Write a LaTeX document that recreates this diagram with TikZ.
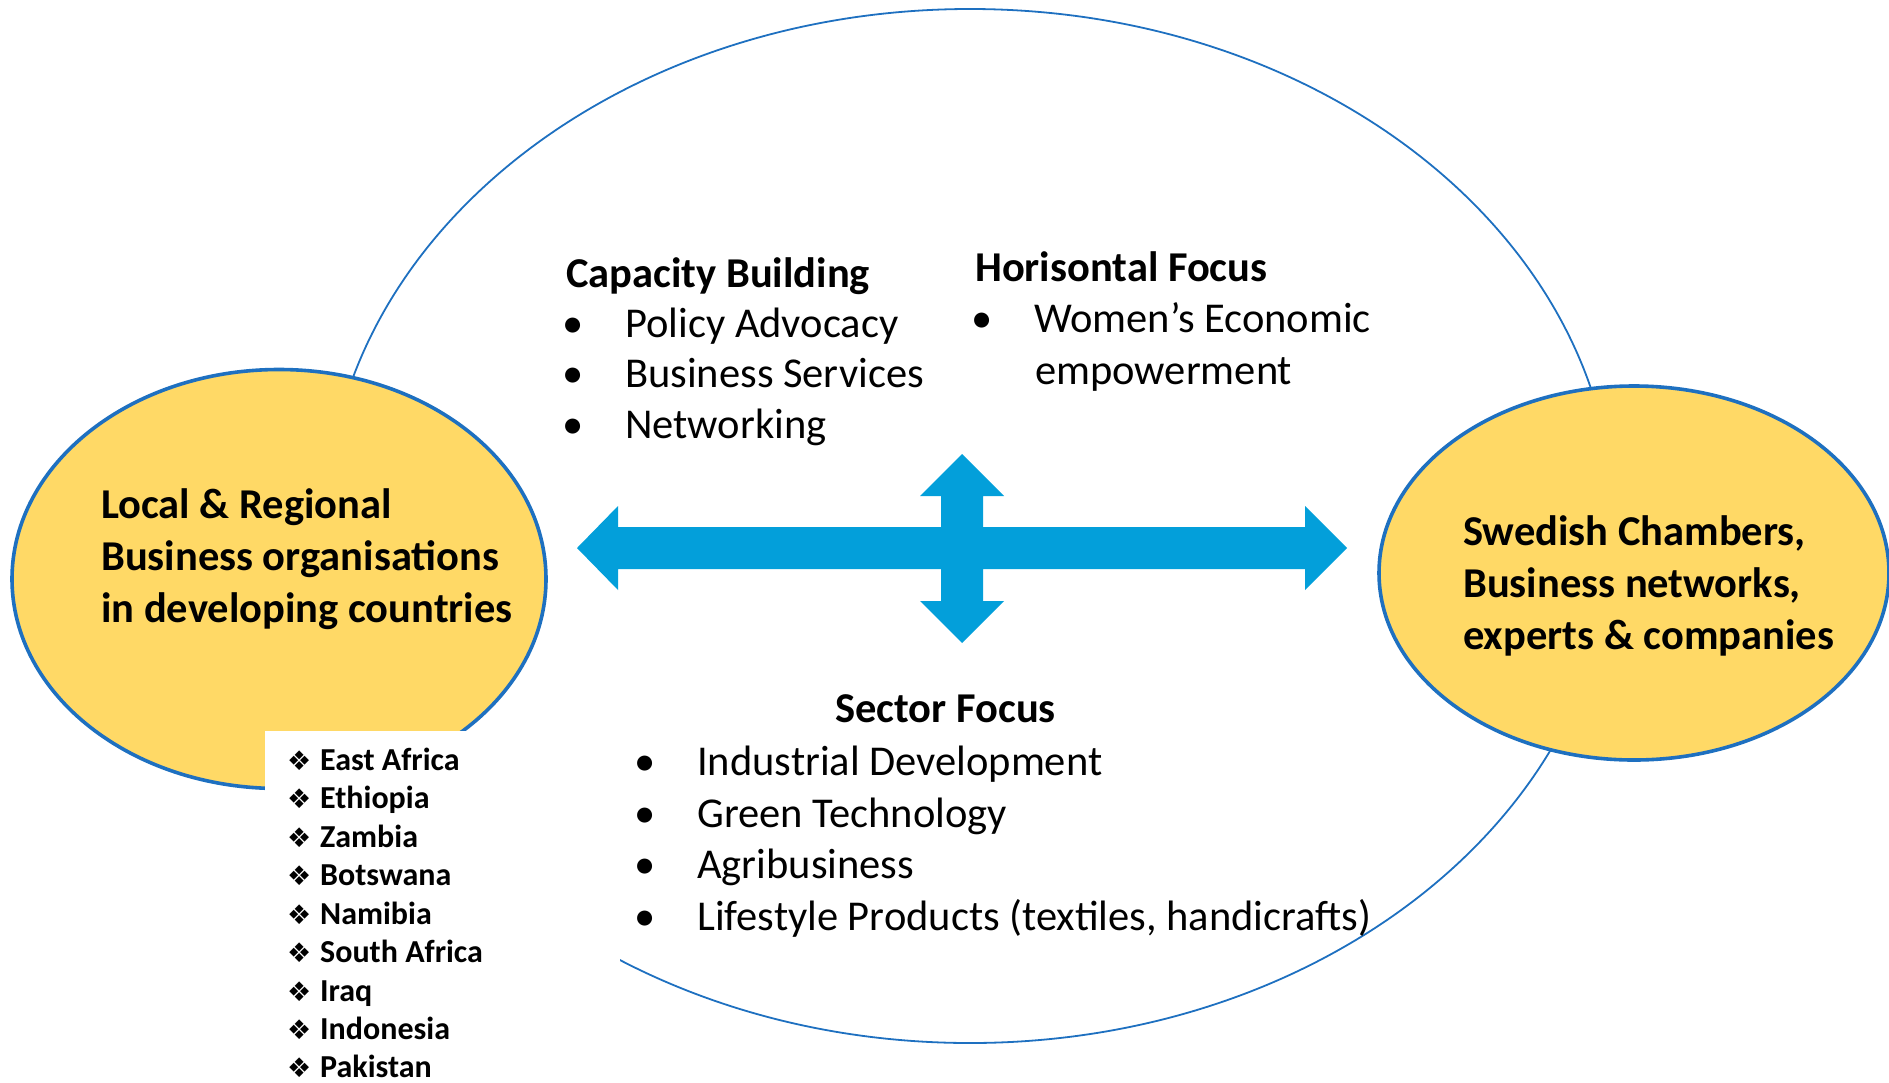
\documentclass[tikz,border=0pt]{standalone}
\usepackage{fontspec}
\setmainfont{Carlito}
\newfontfamily\dingfont{DejaVu Sans}
\usepackage{tikz}
\usetikzlibrary{shapes.geometric}

\definecolor{ringblue}{RGB}{30,112,192}
\definecolor{orgyellow}{RGB}{255,217,102}
\definecolor{arrowblue}{RGB}{3,159,218}

\newcommand{\bitem}[1]{\makebox[0pt]{\textbullet}\hspace{52pt}#1}
\newcommand{\ditem}[1]{\makebox[0pt][l]{\dingfont\fontsize{27}{38}\selectfont ❖}\hspace{33pt}#1}

\begin{document}
\begin{tikzpicture}[x=1pt,y=-1pt,
    orgell/.style={ellipse, draw=ringblue, line width=3.6pt, fill=orgyellow, inner sep=0pt},
    orgtxt/.style={anchor=west, align=left, inner sep=0pt, font=\fontsize{42.5}{52}\selectfont\bfseries},
    hd/.style={anchor=west, inner sep=0pt, text height=30pt, text depth=9pt, font=\fontsize{42.5}{50}\selectfont\bfseries},
    itm/.style={anchor=west, inner sep=0pt, text height=30pt, text depth=9pt, font=\fontsize{42.5}{50}\selectfont},
    cty/.style={anchor=west, inner sep=0pt, text height=22pt, text depth=7pt, font=\fontsize{32}{38}\selectfont\bfseries}]
    \useasboundingbox (0,0) rectangle (1889,1082);

    %Shape: Ellipse [id:ring]
    \node [ellipse, draw=ringblue, line width=1.8pt, minimum width=1288pt, minimum height=1034pt] (ring) at (970,526) {};
    %Shape: Ellipse [id:local]
    \node [orgell, minimum width=534pt, minimum height=419pt] (local) at (279,579) {};
    %Shape: Ellipse [id:swedish]
    \node [orgell, minimum width=510pt, minimum height=374pt] (swedish) at (1634,573) {};
    %Shape: Rectangle [id:ctybox]
    \fill [white] (265,731) rectangle (620,1090);

    %Shape: Cross Arrow [id:cross]
    \fill [arrowblue] (577,548) -- (618,506) -- (618,527) -- (941,527) -- (941,496) -- (920,496) -- (962,454)
        -- (1004,496) -- (983,496) -- (983,527) -- (1305,527) -- (1305,506) -- (1347,548) -- (1305,590)
        -- (1305,569) -- (983,569) -- (983,601) -- (1004,601) -- (962,643) -- (920,601) -- (941,601)
        -- (941,569) -- (618,569) -- (618,590) -- cycle;

    % Text Node
    \node [orgtxt] (localtxt) at (101,559) {Local \& Regional\\Business organisations\\in developing countries};
    % Text Node
    \node [orgtxt] (swedishtxt) at (1463,586) {Swedish Chambers,\\Business networks,\\experts \& companies};

    % Text Node
    \node [hd] (caphd) at (566,277) {Capacity Building};
    % Text Node
    \node [itm] (cap1) at (573,327) {\bitem{Policy Advocacy}};
    % Text Node
    \node [itm] (cap2) at (573,377) {\bitem{Business Services}};
    % Text Node
    \node [itm] (cap3) at (573,428) {\bitem{Networking}};

    % Text Node
    \node [hd] (horhd) at (975,271) {Horisontal Focus};
    % Text Node
    \node [itm] (hor1) at (982,322) {\bitem{Women’s Economic}};
    % Text Node
    \node [itm] (hor2) at (1035,374) {empowerment};

    % Text Node
    \node [hd] (sechd) at (835,712) {Sector Focus};
    % Text Node
    \node [itm] (sec1) at (645,765) {\bitem{Industrial Development}};
    % Text Node
    \node [itm] (sec2) at (645,817) {\bitem{Green Technology}};
    % Text Node
    \node [itm] (sec3) at (645,868) {\bitem{Agribusiness}};
    % Text Node
    \node [itm] (sec4) at (645,920) {\bitem{Lifestyle Products (textiles, handicrafts)}};

    % Text Node
    \node [cty] (c1) at (287,763) {\ditem{East Africa}};
    % Text Node
    \node [cty] (c2) at (287,801) {\ditem{Ethiopia}};
    % Text Node
    \node [cty] (c3) at (287,840) {\ditem{Zambia}};
    % Text Node
    \node [cty] (c4) at (287,878) {\ditem{Botswana}};
    % Text Node
    \node [cty] (c5) at (287,917) {\ditem{Namibia}};
    % Text Node
    \node [cty] (c6) at (287,955) {\ditem{South Africa}};
    % Text Node
    \node [cty] (c7) at (287,994) {\ditem{Iraq}};
    % Text Node
    \node [cty] (c8) at (287,1032) {\ditem{Indonesia}};
    % Text Node
    \node [cty] (c9) at (287,1070) {\ditem{Pakistan}};
\end{tikzpicture}
\end{document}
